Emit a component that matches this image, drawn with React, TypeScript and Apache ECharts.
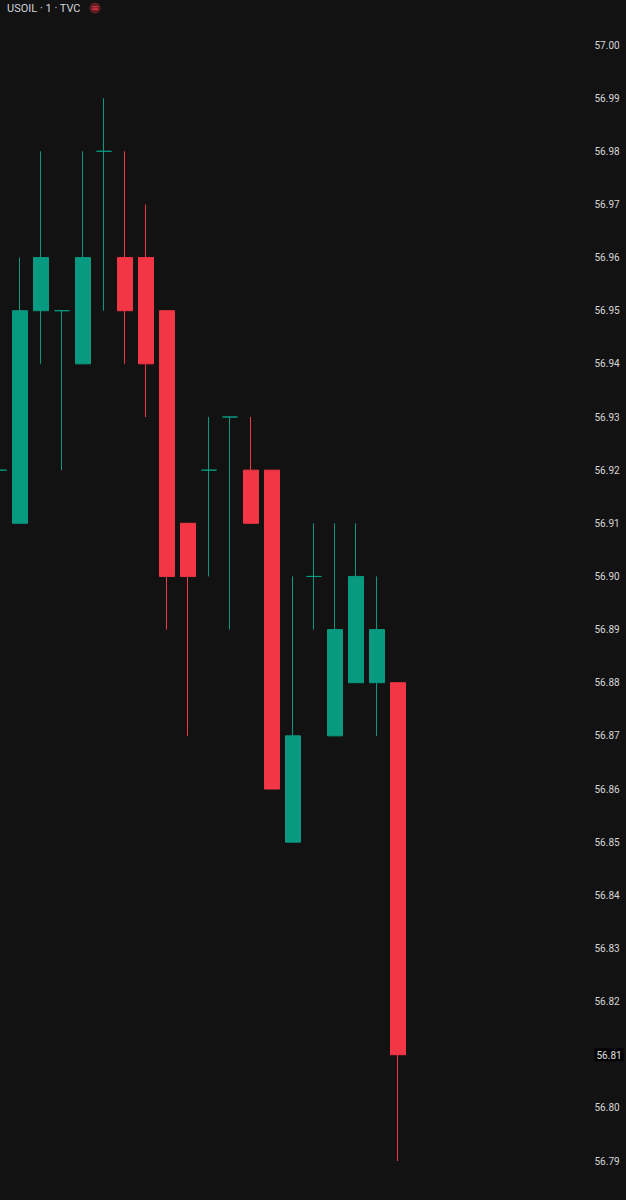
import React, { useEffect, useRef } from "react";
import * as echarts from "echarts";

// 1-minute candles (first one partially cut at left edge)
const categories = [
  "10:00", "10:01", "10:02", "10:03", "10:04", "10:05", "10:06", "10:07", "10:08", "10:09",
  "10:10", "10:11", "10:12", "10:13", "10:14", "10:15", "10:16", "10:17", "10:18", "10:19",
  "10:20", "10:21", "10:22", "10:23", "10:24", "10:25", "10:26", "10:27",
];
const opens = [56.92, 56.91, 56.95, 56.95, 56.94, 56.98, 56.96, 56.96, 56.95, 56.91, 56.92, 56.93, 56.92, 56.92, 56.85, 56.90, 56.87, 56.88, 56.88, 56.88];
const closes = [56.92, 56.95, 56.96, 56.95, 56.96, 56.98, 56.95, 56.94, 56.90, 56.90, 56.92, 56.93, 56.91, 56.86, 56.87, 56.90, 56.89, 56.90, 56.89, 56.81];
const lows = [56.92, 56.91, 56.94, 56.92, 56.94, 56.95, 56.94, 56.93, 56.89, 56.87, 56.90, 56.89, 56.91, 56.86, 56.85, 56.89, 56.87, 56.88, 56.87, 56.79];
const highs = [56.92, 56.96, 56.98, 56.95, 56.98, 56.99, 56.98, 56.97, 56.95, 56.91, 56.93, 56.93, 56.93, 56.92, 56.90, 56.91, 56.91, 56.91, 56.90, 56.88];
const yMin = 56.79;
const yMax = 57.0;
const yStep = 0.01;
const lastPrice = "56.81";
const title = "USOIL · 1 · TVC";

const UP = "#089981";
const DOWN = "#f23645";
const BG = "#121212";

export default function App() {
  const ref = useRef<HTMLDivElement>(null);
  useEffect(() => {
    document.body.style.margin = "0";
    document.body.style.background = BG;
    const chart = echarts.init(ref.current!, null, { renderer: "svg" });
    const data = categories.map((_, i) =>
      i < opens.length ? [opens[i], closes[i], lows[i], highs[i]] : "-"
    );
    chart.setOption({
      animation: false,
      backgroundColor: BG,
      grid: {
        left: -11.5,
        right: 49.5,
        top: 45,
        bottom: 39,
        containLabel: false,
        outerBoundsMode: "none",
      },
      xAxis: {
        type: "category",
        data: categories,
        boundaryGap: true,
        show: false,
      },
      yAxis: {
        type: "value",
        position: "right",
        min: yMin,
        max: yMax,
        interval: yStep,
        scale: true,
        axisLine: { show: false },
        axisTick: { show: false },
        splitLine: { show: false },
        axisLabel: {
          margin: 18,
          fontSize: 10,
          color: "#d6d6d6",
          fontFamily: "Roboto, sans-serif",
          formatter: (v: number) => {
            const s = v.toFixed(2);
            return s === lastPrice ? "{hl|" + s + "}" : s;
          },
          rich: {
            hl: {
              fontSize: 10,
              color: "#e0e0e0",
              backgroundColor: "#000000",
              padding: [2, 2, 1, 2],
              fontFamily: "Roboto, sans-serif",
            },
          },
        },
      },
      series: [
        {
          type: "candlestick",
          data,
          barWidth: 16,
          itemStyle: {
            color: UP,
            color0: DOWN,
            borderColor: UP,
            borderColor0: DOWN,
            borderColorDoji: UP,
            borderWidth: 1,
          },
        },
      ],
      graphic: [
        {
          type: "text",
          left: 7,
          top: 3,
          style: {
            text: title,
            fill: "#d1d4dc",
            fontSize: 11,
            fontFamily: "Roboto, sans-serif",
          },
        },
        {
          type: "circle",
          shape: { cx: 95, cy: 8, r: 5.5 },
          style: { fill: "rgba(242,54,69,0.35)" },
        },
        {
          type: "text",
          x: 95,
          y: 8,
          style: {
            text: "≡",
            fill: "#f23645",
            fontSize: 9,
            align: "center",
            verticalAlign: "middle",
            fontFamily: "DejaVu Sans, sans-serif",
          },
        },
      ],
    });
    return () => chart.dispose();
  }, []);
  return <div ref={ref} style={{ width: 626, height: 1200, background: BG }} />;
}
